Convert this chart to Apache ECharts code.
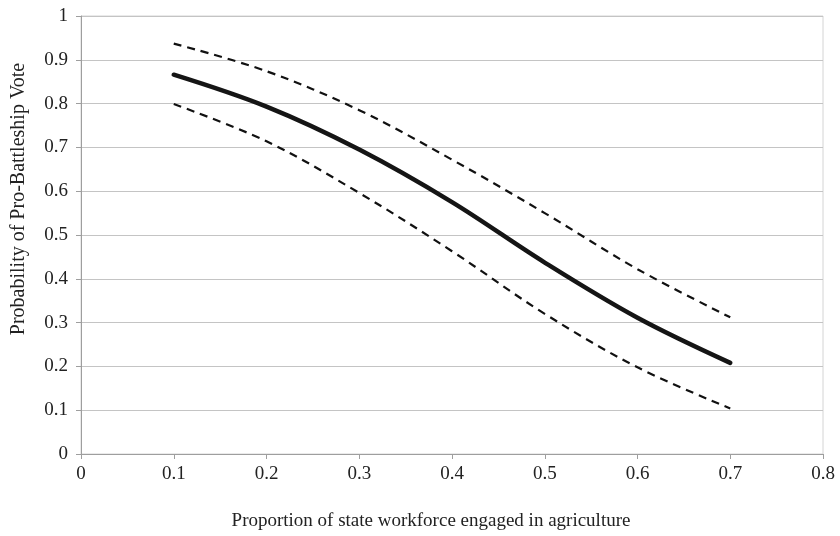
<!DOCTYPE html>
<html>
<head>
<meta charset="utf-8">
<script src="https://cdn.jsdelivr.net/npm/echarts@6/dist/echarts.min.js"></script>
<style>
  html, body { margin: 0; padding: 0; background: #fff; }
  #chart { width: 840px; height: 536px; }
</style>
</head>
<body>
<div id="chart"></div>
<script>
// Share of state workforce in agriculture
const agShare = [0.1, 0.2, 0.3, 0.4, 0.5, 0.6, 0.7];
// Predicted probability of a pro-battleship vote with its confidence band
const predicted = [0.866, 0.793, 0.695, 0.575, 0.437, 0.311, 0.208];
const upperBound = [0.937, 0.874, 0.785, 0.672, 0.550, 0.422, 0.312];
const lowerBound = [0.799, 0.714, 0.596, 0.463, 0.320, 0.198, 0.104];

const FONT = '"Liberation Serif", "DejaVu Serif", serif';

const pairs = ys => agShare.map((x, i) => [x, ys[i]]);

const chart = echarts.init(document.getElementById('chart'));
chart.setOption({
  animation: false,
  grid: {
    left: 81, right: 17, top: 16, bottom: 79,
    show: true, borderColor: '#d4d4d4', borderWidth: 1, backgroundColor: 'transparent'
  },
  xAxis: {
    type: 'value', min: 0, max: 0.8, interval: 0.1,
    name: 'Proportion of state workforce engaged in agriculture',
    nameLocation: 'middle', nameGap: 58,
    nameTextStyle: { fontFamily: FONT, fontSize: 19, color: '#222', padding: [0, 42, 0, 0] },
    axisLine: { show: true, lineStyle: { color: '#9e9e9e', width: 1 } },
    axisTick: { show: true, length: 5, lineStyle: { color: '#9e9e9e' } },
    axisLabel: { fontFamily: FONT, fontSize: 19, color: '#222', margin: 11,
      formatter: v => String(Math.round(v * 10) / 10) },
    splitLine: { show: false }
  },
  yAxis: {
    type: 'value', min: 0, max: 1, interval: 0.1,
    name: 'Probability of Pro-Battleship Vote',
    nameLocation: 'middle', nameGap: 52,
    nameTextStyle: { fontFamily: FONT, fontSize: 20, color: '#222', padding: [0, 0, 0, 72] },
    axisLine: { show: true, lineStyle: { color: '#9e9e9e', width: 1 } },
    axisTick: { show: true, length: 5, lineStyle: { color: '#9e9e9e' } },
    axisLabel: { fontFamily: FONT, fontSize: 19, color: '#222', margin: 13,
      formatter: v => String(Math.round(v * 10) / 10) },
    splitLine: { show: true, lineStyle: { color: '#c4c4c4', width: 1 } }
  },
  series: [
    {
      type: 'line', data: pairs(upperBound), smooth: 0.35, symbol: 'none',
      lineStyle: { color: '#111', width: 2.2, type: [8, 6] }
    },
    {
      type: 'line', data: pairs(lowerBound), smooth: 0.35, symbol: 'none',
      lineStyle: { color: '#111', width: 2.2, type: [8, 6] }
    },
    {
      type: 'line', data: pairs(predicted), smooth: 0.35, symbol: 'none',
      lineStyle: { color: '#151515', width: 4.5, cap: 'round' }
    }
  ]
});
</script>
</body>
</html>
